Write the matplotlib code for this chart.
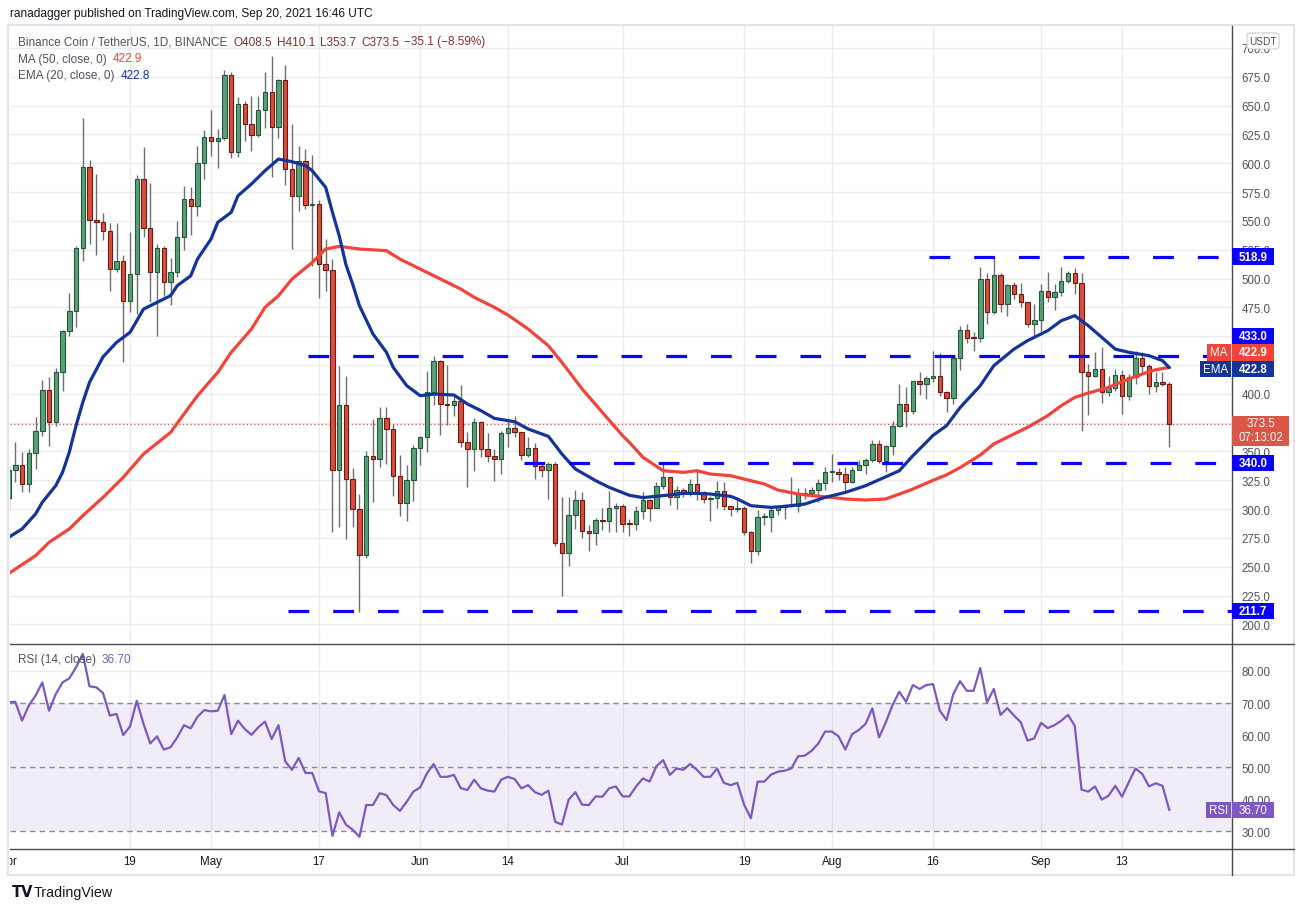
import numpy as np
import pandas as pd
import matplotlib
matplotlib.use("Agg")
import matplotlib.pyplot as plt
import matplotlib.dates as mdates
from matplotlib.patches import Rectangle, FancyBboxPatch
from matplotlib.transforms import Bbox

plt.rcParams['font.family'] = ['Liberation Sans', 'DejaVu Sans']

# ---- data (BNB/USDT daily, Apr 1 - Sep 20 2021) ----
dates = pd.date_range('2021-04-01', '2021-09-20', freq='D')

opens = [310.0, 334.2, 338.3, 321.5, 348.4, 367.4, 403.0, 375.2, 418.6, 454.2,
         471.5, 526.4, 596.4, 551.0, 549.3, 541.5, 507.9, 515.2, 480.8, 503.6,
         586.0, 543.5, 505.3, 526.1, 496.7, 505.3, 535.7, 568.9, 562.6, 599.8,
         622.4, 619.5, 621.5, 676.5, 609.4, 651.0, 633.7, 624.4, 645.8, 661.4,
         631.0, 672.1, 594.9, 571.8, 602.2, 563.7, 564.3, 512.3, 507.7, 334.2,
         390.6, 326.1, 300.1, 260.2, 345.8, 343.5, 378.7, 369.5, 328.4, 305.3,
         325.0, 352.7, 362.3, 401.3, 428.2, 391.2, 390.3, 393.5, 357.9, 352.1,
         375.3, 352.1, 346.4, 343.5, 366.0, 370.1, 366.6, 347.0, 352.7, 337.7,
         333.9, 339.1, 270.3, 261.9, 295.2, 308.2, 280.7, 279.3, 290.6, 289.7,
         300.7, 303.0, 287.1, 286.7, 298.1, 307.6, 301.2, 319.7, 327.5, 310.2,
         316.8, 315.1, 321.5, 315.1, 308.5, 309.3, 315.4, 302.4, 299.8, 301.2,
         279.8, 264.0, 292.9, 293.2, 299.2, 301.5, 302.4, 303.0, 312.8, 313.7,
         316.6, 322.6, 331.9, 332.3, 330.2, 323.2, 334.2, 338.2, 342.3, 356.2,
         341.4, 354.4, 371.8, 390.9, 385.4, 410.8, 408.2, 413.4, 415.1, 401.3,
         396.3, 430.7, 455.3, 448.7, 448.1, 499.6, 471.2, 503.0, 477.6, 494.4,
         486.3, 479.3, 460.2, 464.0, 489.4, 483.7, 488.0, 497.5, 504.8, 496.1,
         418.6, 415.1, 421.5, 401.3, 404.8, 416.3, 398.4, 414.3, 431.0, 423.8,
         406.5, 410.5, 408.5]
highs = [337.0, 357.9, 349.2, 352.1, 379.6, 412.0, 414.3, 422.1, 455.0, 487.4,
         528.4, 639.2, 602.7, 590.6, 556.8, 548.1, 548.1, 520.4, 540.6, 589.4,
         613.7, 582.8, 529.9, 528.4, 517.5, 549.6, 580.5, 579.0, 615.2, 628.8,
         646.1, 629.6, 680.8, 679.3, 657.1, 654.2, 658.5, 658.5, 679.3, 692.6,
         673.0, 685.4, 634.0, 615.2, 612.3, 607.0, 568.3, 534.2, 516.9, 424.4,
         415.7, 335.7, 313.1, 350.7, 378.1, 388.3, 388.3, 373.8, 347.0, 338.3,
         355.6, 363.7, 419.5, 432.5, 429.6, 425.0, 398.4, 407.6, 366.6, 378.7,
         376.7, 366.0, 352.1, 368.1, 378.7, 381.1, 366.9, 362.3, 357.0, 339.1,
         340.6, 340.6, 310.2, 310.2, 316.8, 315.1, 286.2, 292.0, 300.7, 316.0,
         305.0, 304.4, 291.5, 303.0, 314.5, 308.8, 323.2, 340.0, 328.1, 320.3,
         318.3, 326.1, 333.3, 316.0, 311.1, 324.4, 323.8, 303.0, 308.8, 302.4,
         281.0, 299.5, 296.6, 302.4, 302.4, 304.4, 328.1, 318.0, 318.0, 319.5,
         326.1, 336.2, 347.8, 335.4, 336.2, 336.2, 342.9, 344.0, 360.2, 360.2,
         355.6, 376.4, 408.5, 405.6, 411.4, 419.2, 415.7, 437.4, 435.4, 402.7,
         431.6, 458.5, 460.5, 453.3, 509.7, 504.5, 519.2, 505.0, 495.2, 496.7,
         496.1, 479.9, 477.9, 495.2, 505.3, 495.2, 509.7, 506.2, 508.8, 504.8,
         425.9, 436.0, 440.3, 415.7, 421.5, 421.0, 417.2, 437.4, 436.0, 425.9,
         419.2, 418.6, 410.1]
lows = [300.0, 323.8, 315.1, 315.1, 335.0, 363.7, 355.0, 371.8, 402.7, 449.8,
        457.6, 514.9, 529.9, 520.6, 533.6, 489.4, 505.9, 427.9, 470.6, 469.2,
        535.7, 479.3, 449.8, 484.5, 477.0, 501.0, 525.0, 538.0, 553.9, 586.3,
        606.5, 595.5, 620.0, 604.2, 605.0, 619.5, 610.8, 622.4, 630.2, 587.7,
        621.5, 581.4, 525.6, 558.8, 560.3, 511.0, 482.8, 489.4, 279.9, 284.2,
        274.1, 284.2, 211.1, 257.3, 305.9, 336.2, 339.1, 311.7, 294.3, 289.9,
        307.4, 338.3, 349.8, 390.3, 364.3, 373.0, 381.1, 353.6, 318.9, 333.3,
        344.9, 340.6, 324.7, 330.4, 353.6, 362.3, 342.9, 344.9, 326.1, 327.5,
        308.8, 268.3, 225.0, 251.0, 282.7, 274.7, 264.0, 268.9, 282.2, 280.5,
        280.5, 280.5, 276.5, 282.2, 291.4, 290.0, 300.7, 317.4, 303.9, 300.1,
        310.2, 311.7, 308.2, 305.3, 290.0, 300.7, 299.5, 294.3, 297.8, 277.5,
        253.3, 260.2, 286.2, 280.5, 294.9, 291.4, 302.0, 297.2, 308.8, 311.1,
        305.9, 316.8, 323.8, 325.0, 316.0, 322.6, 334.0, 330.4, 340.6, 339.7,
        332.5, 346.9, 371.2, 370.9, 382.5, 399.0, 395.5, 410.5, 398.4, 384.5,
        391.2, 421.0, 444.1, 437.4, 445.2, 460.5, 469.2, 470.7, 467.2, 482.2,
        475.0, 457.6, 448.1, 454.8, 480.0, 473.0, 485.1, 496.0, 486.6, 368.0,
        381.6, 414.3, 392.0, 398.4, 402.7, 382.5, 395.0, 408.5, 418.6, 399.8,
        401.3, 407.1, 353.7]
closes = [334.2, 338.3, 321.5, 348.4, 367.4, 403.0, 375.2, 418.6, 454.2, 471.5,
          526.4, 596.4, 551.0, 549.3, 541.5, 507.9, 515.2, 480.8, 503.6, 586.0,
          543.5, 505.3, 526.1, 496.7, 505.3, 535.7, 568.9, 562.6, 599.8, 622.4,
          619.5, 621.5, 676.5, 609.4, 651.0, 633.7, 624.4, 645.8, 661.4, 631.0,
          672.1, 594.9, 571.8, 602.2, 563.7, 564.3, 512.3, 507.7, 334.2, 390.6,
          326.1, 300.1, 260.2, 345.8, 343.5, 378.7, 369.5, 328.4, 305.3, 325.0,
          352.7, 362.3, 401.3, 428.2, 391.2, 390.3, 393.5, 357.9, 352.1, 375.3,
          352.1, 346.4, 343.5, 366.0, 370.1, 366.6, 347.0, 352.7, 337.7, 333.9,
          339.1, 270.3, 261.9, 295.2, 308.2, 280.7, 279.3, 290.6, 289.7, 300.7,
          303.0, 287.1, 286.7, 298.1, 307.6, 301.2, 319.7, 327.5, 310.2, 316.8,
          315.1, 321.5, 315.1, 308.5, 309.3, 315.4, 302.4, 299.8, 301.2, 279.8,
          264.0, 292.9, 293.2, 299.2, 301.5, 302.4, 303.0, 312.8, 313.7, 316.6,
          322.6, 331.9, 332.3, 330.2, 323.2, 334.2, 338.2, 342.3, 356.2, 341.4,
          354.4, 371.8, 390.9, 385.4, 410.8, 408.2, 413.4, 415.1, 401.3, 396.3,
          430.7, 455.3, 448.7, 448.1, 499.6, 471.2, 503.0, 477.6, 494.4, 486.3,
          479.3, 460.2, 464.0, 489.4, 483.7, 488.0, 497.5, 504.8, 496.1, 418.6,
          415.1, 421.5, 401.3, 404.8, 416.3, 398.4, 414.3, 431.0, 423.8, 406.5,
          410.5, 408.5, 373.5]

# moving averages, read at sample days (days since Apr 1)
ma50_day = [0, 1, 4, 6, 9, 11, 14, 17, 20, 24, 26, 28, 31, 33, 36, 38, 40, 42, 45, 47,
            49, 52, 56, 58, 61, 64, 67, 69, 72, 74, 77, 80, 82, 85, 88, 91, 92, 94, 97, 100,
            102, 104, 107, 109, 112, 114, 117, 119, 122, 124, 127, 130, 132, 134, 137, 139,
            141, 144, 146, 149, 151, 154, 156, 158, 160, 163, 165, 168, 170, 172]
ma50_val = [244.0, 248.0, 259.6, 271.2, 282.8, 294.3, 310.2, 327.6, 347.8, 366.5,
            382.5, 398.4, 418.6, 436.0, 456.2, 475.0, 485.1, 499.5, 514.0, 525.6,
            527.9, 525.6, 524.1, 516.9, 508.2, 499.6, 490.9, 483.7, 475.0, 468.3,
            456.2, 441.7, 427.3, 404.2, 383.9, 363.7, 357.9, 345.0, 333.3, 331.9,
            333.3, 330.4, 329.0, 326.1, 321.8, 316.6, 313.1, 311.7, 310.2, 308.8,
            307.9, 308.8, 313.1, 317.4, 325.0, 329.7, 336.0, 346.9, 356.5, 365.2,
            370.9, 381.1, 389.7, 396.9, 400.7, 405.6, 410.5, 417.2, 420.9, 422.9]
ema20_day = [0, 2, 4, 5, 7, 8, 9, 10, 11, 12, 14, 16, 18, 20, 22, 24, 25, 27, 28, 30,
             31, 33, 34, 36, 38, 40, 42, 44, 45, 47, 48, 49, 50, 51, 52, 54, 56, 57, 59, 61,
             63, 66, 68, 70, 72, 75, 77, 80, 82, 84, 87, 89, 92, 94, 97, 100, 102, 104, 107,
             108, 110, 113, 115, 118, 121, 124, 127, 129, 132, 134, 136, 137, 139, 141, 144,
             146, 149, 151, 154, 156, 158, 160, 162, 164, 166, 169, 171, 172]
ema20_val = [275.5, 282.8, 295.8, 305.9, 320.4, 331.9, 349.3, 372.4, 392.6, 410.0,
             432.0, 444.6, 453.3, 473.5, 479.3, 485.1, 493.8, 502.4, 516.9, 534.2,
             548.7, 557.4, 571.8, 582.0, 593.5, 603.6, 601.3, 598.0, 593.5, 579.0,
             557.4, 537.1, 512.0, 495.0, 476.4, 451.9, 436.0, 423.0, 407.1, 398.4,
             399.8, 399.0, 391.2, 385.4, 378.7, 375.8, 369.5, 363.1, 347.8, 334.8,
             324.7, 318.9, 312.0, 310.0, 311.7, 313.7, 313.7, 313.1, 311.1, 308.8,
             303.0, 301.5, 302.4, 304.4, 310.2, 314.5, 320.3, 325.5, 333.3, 346.3,
             358.0, 364.0, 372.4, 388.0, 407.1, 424.4, 438.8, 446.1, 454.8, 463.4,
             467.8, 459.1, 449.0, 438.8, 436.0, 433.1, 428.8, 422.8]

rsi = [70.2, 70.4, 64.5, 69.2, 72.3, 76.4, 67.6, 72.8, 76.4, 77.7,
       81.1, 85.3, 75.2, 74.9, 73.1, 66.1, 66.6, 60.0, 62.7, 70.7,
       63.5, 57.4, 59.6, 55.5, 56.2, 59.3, 63.1, 62.1, 65.7, 67.8,
       67.4, 67.6, 72.5, 60.3, 64.5, 61.9, 60.1, 62.4, 64.2, 58.8,
       63.1, 51.8, 49.2, 52.9, 48.2, 48.2, 42.5, 41.9, 28.6, 35.9,
       32.1, 30.5, 28.3, 38.2, 38.2, 41.9, 41.3, 38.2, 36.4, 39.2,
       42.4, 43.7, 48.1, 51.0, 47.0, 47.0, 47.6, 43.5, 42.9, 46.1,
       43.4, 42.7, 42.4, 46.1, 47.0, 46.3, 43.4, 44.4, 42.2, 41.4,
       42.7, 33.0, 32.1, 39.9, 42.2, 38.3, 38.2, 40.9, 40.8, 43.4,
       44.0, 40.9, 40.9, 44.0, 46.5, 45.5, 50.3, 52.2, 47.6, 49.6,
       49.2, 51.0, 49.2, 47.0, 47.0, 49.6, 45.1, 44.4, 45.1, 38.3,
       34.1, 45.5, 45.5, 47.7, 48.6, 48.9, 49.6, 53.4, 53.6, 55.1,
       57.4, 61.1, 61.1, 59.6, 55.5, 60.3, 61.6, 63.5, 68.3, 59.3,
       64.0, 69.4, 73.5, 70.4, 75.6, 74.4, 75.6, 75.9, 67.6, 64.7,
       72.8, 76.8, 73.8, 73.8, 80.9, 70.2, 74.4, 66.3, 68.4, 66.1,
       64.0, 58.3, 59.0, 63.8, 62.2, 63.1, 64.5, 66.3, 62.9, 43.0,
       42.4, 44.0, 39.9, 41.1, 44.2, 40.8, 45.3, 49.6, 47.9, 44.0,
       45.0, 44.2, 36.7]

# horizontal levels drawn by the author, with the date each starts
levels = [518.9, 433.0, 340.0, 211.7]
level_start = ['2021-08-15', '2021-05-15', '2021-06-16', '2021-05-12']

tick_dates = ['2021-04-01', '2021-04-19', '2021-05-01', '2021-05-17', '2021-06-01', '2021-06-14',
              '2021-07-01', '2021-07-19', '2021-08-01', '2021-08-16', '2021-09-01', '2021-09-13']
tick_labels = ['Apr', '19', 'May', '17', 'Jun', '14', 'Jul', '19', 'Aug', '16', 'Sep', '13']

# price scale steps that sit under the tags on the right and are not shown
hidden_steps = [375, 425, 450]

# ---- figure / layout in pixels ----
W, H = 1304, 912
fig = plt.figure(figsize=(W / 100, H / 100), dpi=100)
fig.patch.set_facecolor('white')

L, R = 10, 1232
MT, MB = 27, 644
RT, RB = 645, 850

ax = fig.add_axes([L / W, 1 - MB / H, (R - L) / W, (MB - MT) / H])
axr = fig.add_axes([L / W, 1 - RB / H, (R - L) / W, (RB - RT) / H], sharex=ax)

xs = mdates.date2num(dates)
x0 = xs[0]
ax.set_xlim(x0 + 0.215, x0 + 181.3)
ax.set_ylim(183.9, 719.0)
axr.set_ylim(24.5, 88.4)

GRID = '#ececee'
TXT = '#4f5260'
for a in (ax, axr):
    for s in a.spines.values():
        s.set_visible(False)
    a.set_facecolor('white')
    a.tick_params(axis='x', length=0, labelbottom=False)
    a.yaxis.tick_right()
    a.tick_params(axis='y', length=0, pad=7, labelsize=8.3, labelcolor=TXT)
    for d in tick_dates:
        a.axvline(mdates.date2num(pd.Timestamp(d)), color=GRID, lw=1, zorder=0)

yt = np.arange(200, 701, 25)
ax.set_yticks(yt)
ax.set_yticklabels(['' if v in hidden_steps else '%.1f' % v for v in yt])
for v in yt:
    ax.axhline(v, color=GRID, lw=1, zorder=0)

# candles
o = np.array(opens); h = np.array(highs); l = np.array(lows); c = np.array(closes)
up = c >= o
ax.vlines(xs, l, h, color='#6e6e72', lw=1, zorder=3)
body_lo = np.minimum(o, c)
body_h = np.maximum(np.abs(c - o), 0.9)
ax.bar(xs[up], body_h[up], bottom=body_lo[up], width=0.66, color='#5c9e78',
       edgecolor='#1f5a38', linewidth=0.8, zorder=4)
ax.bar(xs[~up], body_h[~up], bottom=body_lo[~up], width=0.66, color='#d84d3b',
       edgecolor='#6e1a12', linewidth=0.8, zorder=4)

# moving averages
MA_C = '#f4433a'
EMA_C = '#15349a'
ax.plot(x0 + np.array(ma50_day), ma50_val, color=MA_C, lw=2.3, zorder=5,
        solid_capstyle='round', solid_joinstyle='round')
ax.plot(x0 + np.array(ema20_day), ema20_val, color=EMA_C, lw=2.3, zorder=5,
        solid_capstyle='round', solid_joinstyle='round')

# author's dashed levels
LV_C = '#0a00ff'
xend = ax.get_xlim()[1]
for lv, st in zip(levels, level_start):
    ax.hlines(lv, mdates.date2num(pd.Timestamp(st)) + 0.4, xend, color=LV_C, lw=2.3,
              linestyles=(0, (6.5, 7.5)), zorder=6)

# last price dotted line
ax.axhline(closes[-1], color='#d9534f', lw=0.9, ls=(0, (1, 2)), zorder=2)

# RSI pane
axr.axhspan(30, 70, color='#7e57c2', alpha=0.1, lw=0, zorder=0)
for v in (80, 60, 40):
    axr.axhline(v, color=GRID, lw=1, zorder=0)
for v in (70, 50, 30):
    axr.axhline(v, color='#8a8d96', lw=1, ls=(0, (4, 3)), zorder=1)
axr.plot(xs, rsi, color='#7e57c2', lw=1.6, zorder=3)
axr.set_yticks([30, 40, 50, 60, 70, 80])
axr.set_yticklabels(['%.2f' % v for v in [30, 40, 50, 60, 70, 80]])


# frame lines
def hline_px(y, x1, x2, color, lw):
    fig.add_artist(plt.Line2D([x1 / W, x2 / W], [1 - y / H, 1 - y / H], color=color, lw=lw))


def vline_px(x, y1, y2, color, lw):
    fig.add_artist(plt.Line2D([x / W, x / W], [1 - y1 / H, 1 - y2 / H], color=color, lw=lw))


fig.add_artist(Rectangle((8 / W, 1 - 876 / H), (1294 - 8) / W, (876 - 26) / H,
                         transform=fig.transFigure, fill=False, ec='#e0e3eb', lw=1.5))
hline_px(644.5, L, 1294, '#4a4a4a', 1.0)
hline_px(850, L, 1294, '#4a4a4a', 1.0)
vline_px(R, 27, 876, '#4a4a4a', 1.0)


# date labels under the RSI pane
clip = Bbox.from_extents(L, 0, R, H)
for d, lab in zip(tick_dates, tick_labels):
    px = axr.transData.transform((mdates.date2num(pd.Timestamp(d)), 50))[0]
    t = fig.text(px / W, 1 - 862 / H, lab, ha='center', va='center', fontsize=8.3, color='#131722')
    t.set_clip_on(True)
    t.set_clip_box(clip)


# price label boxes on the right scale
def ypix(a, v):
    return H - a.transData.transform((x0, v))[1]


def tag(yc, text, color, x1=R, x2=1274, hgt=16.5, tc='white', size=8.3, bold=True):
    fig.add_artist(Rectangle((x1 / W, 1 - (yc + hgt / 2) / H), (x2 - x1) / W, hgt / H,
                             transform=fig.transFigure, color=color, lw=0, zorder=20))
    fig.text((x1 + x2) / 2 / W, 1 - yc / H, text, ha='center', va='center', fontsize=size,
             color=tc, fontweight='bold' if bold else 'normal', zorder=21)


tag(ypix(ax, 518.9), '518.9', LV_C)
tag(ypix(ax, 433.0) - 19.5, '433.0', LV_C)
tag(ypix(ax, 422.9) - 15, '422.9', MA_C)
tag(ypix(ax, 422.9) - 15, 'MA', MA_C, x1=1206.5, x2=R - 1, bold=False)
tag(ypix(ax, 422.8) + 1.5, '422.8', EMA_C)
tag(ypix(ax, 422.8) + 1.5, 'EMA', EMA_C, x1=1200, x2=R - 1, bold=False)
yp = ypix(ax, closes[-1])
fig.add_artist(Rectangle((R / W, 1 - (yp + 21.5) / H), 57 / W, 30 / H,
                         transform=fig.transFigure, color='#dc5646', lw=0, zorder=20))
fig.text((R + 28.5) / W, 1 - (yp - 1) / H, '373.5', ha='center', va='center',
         fontsize=8.3, color='white', zorder=21)
fig.text((R + 28.5) / W, 1 - (yp + 13) / H, '07:13:02', ha='center', va='center',
         fontsize=8.3, color='white', zorder=21)
tag(ypix(ax, 340.0), '340.0', LV_C)
tag(ypix(ax, 211.7), '211.7', LV_C)
tag(ypix(axr, rsi[-1]), '36.70', '#7e57c2', bold=False)
tag(ypix(axr, rsi[-1]), 'RSI', '#7e57c2', x1=1206, x2=R - 1.5, bold=False)

# USDT badge
fig.add_artist(FancyBboxPatch((1247 / W, 1 - 50 / H), 32 / W, 16 / H,
                              boxstyle='round,pad=0,rounding_size=0.003',
                              transform=fig.transFigure, fc='white', ec='#c9cbd1', lw=0.8, zorder=20))
fig.text(1263 / W, 1 - 42 / H, 'USDT', ha='center', va='center', fontsize=7.3,
         color='#50535e', zorder=21)


# legend text (several colours on one line)
def rich(x, y, parts, size=8.5):
    r = fig.canvas.get_renderer()
    for s, col, gap in parts:
        t = fig.text(x / W, 1 - y / H, s, fontsize=size, color=col, ha='left', va='center')
        x = t.get_window_extent(r).x1 + gap


fig.text(10 / W, 1 - 14 / H, 'ranadagger published on TradingView.com, Sep 20, 2021 16:46 UTC',
         fontsize=8.6, color='#131722', ha='left', va='center')
VAL = '#862b2b'
rich(18, 42.5, [('Binance Coin / TetherUS, 1D, BINANCE', TXT, 6),
                ('O408.5', VAL, 5), ('H410.1', VAL, 5), ('L353.7', VAL, 5),
                ('C373.5', VAL, 5), ('\u221235.1 (\u22128.59%)', VAL, 0)])
rich(18, 59.5, [('MA (50, close, 0)', TXT, 6), ('422.9', MA_C, 0)])
rich(18, 76.5, [('EMA (20, close, 0)', TXT, 6), ('422.8', EMA_C, 0)])
rich(18, 660, [('RSI (14, close)', TXT, 6), ('36.70', '#7e57c2', 0)])

# TradingView mark
fig.text(12 / W, 1 - 893 / H, 'TV', fontsize=10.5, fontweight='heavy', color='#131722',
         ha='left', va='center', family='DejaVu Sans')
fig.text(34 / W, 1 - 893 / H, 'TradingView', fontsize=10.3, color='#131722',
         ha='left', va='center')

fig.savefig('out.png', dpi=100)
